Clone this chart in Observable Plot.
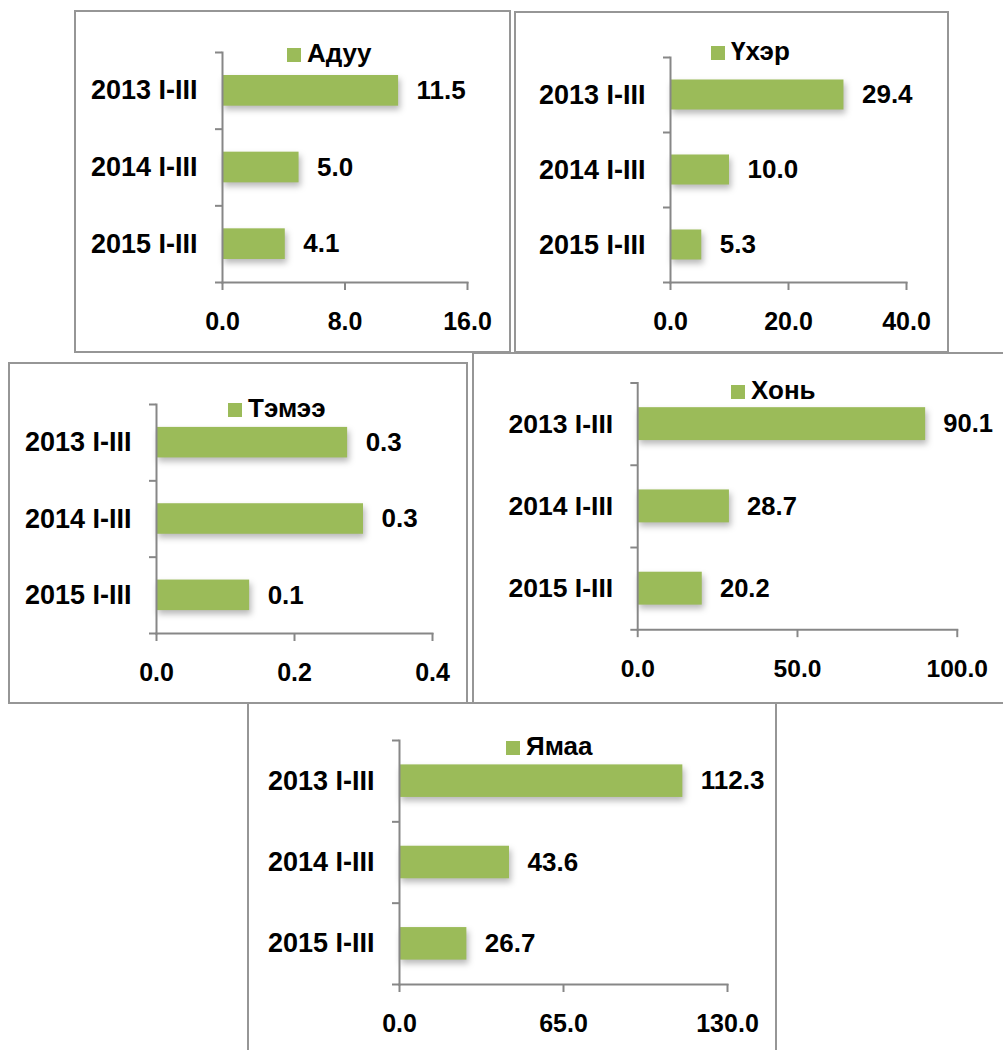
<!DOCTYPE html>
<html>
<head>
<meta charset="utf-8">
<script src="https://cdn.jsdelivr.net/npm/d3@7"></script>
<script src="https://cdn.jsdelivr.net/npm/@observablehq/plot@0.6"></script>
<style>
  html, body { margin: 0; padding: 0; background: #fff; width: 1003px; height: 1050px; overflow: hidden; }
  #root { position: relative; width: 1003px; height: 1050px; font-family: "Liberation Sans", Arial, sans-serif; }
  .frame { position: absolute; border: 2px solid #969696; box-sizing: border-box; background: #fff; }
  .plotbox { position: absolute; }
  .plotbox svg { overflow: visible; }
  .plotbox g[aria-label="bar"] rect { filter: drop-shadow(2px 4px 3px rgba(0,0,0,0.28)); }
  .legsq { position: absolute; width: 14px; height: 14px; background: #9bbb59; }
  .legtx { position: absolute; font-size: 26px; line-height: 26px; font-weight: bold; color: #000; white-space: nowrap; }
</style>
</head>
<body>
<div id="root"></div>
<script>
// ---- data ----
const categories = ["2013 I-III", "2014 I-III", "2015 I-III"];
const seriesNames = ["Адуу", "Үхэр", "Тэмээ", "Хонь", "Ямаа"];
const horseValues = [11.5, 5.0, 4.1];
const cattleValues = [29.4, 10.0, 5.3];
const camelValues = [0.277, 0.300, 0.135];
const sheepValues = [90.1, 28.7, 20.2];
const goatValues = [112.3, 43.6, 26.7];
const axisMax = [16, 40, 0.4, 100, 130];
const xTicks = [[0, 8, 16], [0, 20, 40], [0, 0.2, 0.4], [0, 50, 100], [0, 65, 130]];
const allValues = [horseValues, cattleValues, camelValues, sheepValues, goatValues];

// ---- layout (page pixels) ----
const layouts = [
  {frame: {l: 75, t: 11, r: 510, b: 352}, ax: {x0: 222, x1: 467, top: 52, bottom: 282}, leg: {sx: 287, base: 62}},
  {frame: {l: 515, t: 12, r: 948, b: 352}, ax: {x0: 670, x1: 906, top: 57, bottom: 282}, leg: {sx: 711, base: 60}},
  {frame: {l: 9, t: 363, r: 467, b: 703}, ax: {x0: 156, x1: 432, top: 404, bottom: 633}, leg: {sx: 228, base: 417}},
  {frame: {l: 473, t: 353, r: 1012, b: 703}, ax: {x0: 640, x1: 965, top: 383, bottom: 634}, leg: {sx: 731, base: 399}},
  {frame: {l: 248, t: 703, r: 776, b: 1062}, ax: {x0: 399, x1: 727, top: 740, bottom: 984}, leg: {sx: 506, base: 755}}
];
const order = [0, 1, 2, 3, 4];

const root = document.getElementById("root");
const green = "#9bbb59";
const axisGray = "#878787";
const fmt = d3.format(".1f");

for (const i of order) {
  const L = layouts[i];
  const f = L.frame, a = L.ax;
  const W = f.r - f.l, H = f.b - f.t;

  const fr = document.createElement("div");
  fr.className = "frame";
  fr.style.left = (f.l - 1) + "px";
  fr.style.top = (f.t - 1) + "px";
  fr.style.width = (W + 2) + "px";
  fr.style.height = (H + 2) + "px";
  root.appendChild(fr);

  const data = categories.map((c, k) => ({cat: c, value: allValues[i][k]}));
  const step = (a.bottom - a.top) / categories.length;

  const chart = Plot.plot({
    width: W,
    height: H,
    marginLeft: a.x0 - f.l,
    marginRight: f.r - a.x1,
    marginTop: a.top - f.t,
    marginBottom: f.b - a.bottom,
    style: {fontFamily: '"Liberation Sans", Arial, sans-serif', fontWeight: "bold", color: "#000", background: "transparent", overflow: "visible"},
    x: {domain: [0, axisMax[i]], axis: null},
    y: {domain: categories, paddingInner: 0.6, paddingOuter: 0.3, axis: null, round: false},
    marks: [
      Plot.barX(data, {y: "cat", x: "value", fill: green}),
      Plot.text(data, {y: "cat", x: "value", text: d => fmt(d.value), textAnchor: "start", dx: 18, fontSize: 26, fontWeight: "bold", fill: "#000"}),
      // y category labels
      Plot.axisY({tickSize: 0, tickPadding: 25, fontSize: 27, fontWeight: "bold", fill: "#000", label: null}),
      // y tick marks at band boundaries
      Plot.axisY({tickSize: 7, tickFormat: () => "", label: null, stroke: axisGray, strokeWidth: 2, dy: -step / 2}),
      Plot.axisY({ticks: [categories[categories.length - 1]], tickSize: 7, tickFormat: () => "", label: null, stroke: axisGray, strokeWidth: 2, dy: step / 2}),
      // x axis
      Plot.axisX({ticks: xTicks[i], tickFormat: fmt, tickSize: 8, tickPadding: 22, fontSize: 25, fontWeight: "bold", fill: "#000", stroke: axisGray, strokeWidth: 2, label: null}),
      Plot.frame({anchor: "bottom", stroke: axisGray, strokeWidth: 2}),
      Plot.frame({anchor: "left", stroke: axisGray, strokeWidth: 2})
    ]
  });
  const box = document.createElement("div");
  box.className = "plotbox";
  box.style.left = f.l + "px";
  box.style.top = f.t + "px";
  box.appendChild(chart);
  root.appendChild(box);

  // legend
  const sq = document.createElement("div");
  sq.className = "legsq";
  sq.style.left = L.leg.sx + "px";
  sq.style.top = (L.leg.base - 14) + "px";
  root.appendChild(sq);
  const tx = document.createElement("div");
  tx.className = "legtx";
  tx.textContent = seriesNames[i];
  tx.style.left = (L.leg.sx + 20) + "px";
  tx.style.top = (L.leg.base - 22) + "px";
  root.appendChild(tx);
}
</script>
</body>
</html>
